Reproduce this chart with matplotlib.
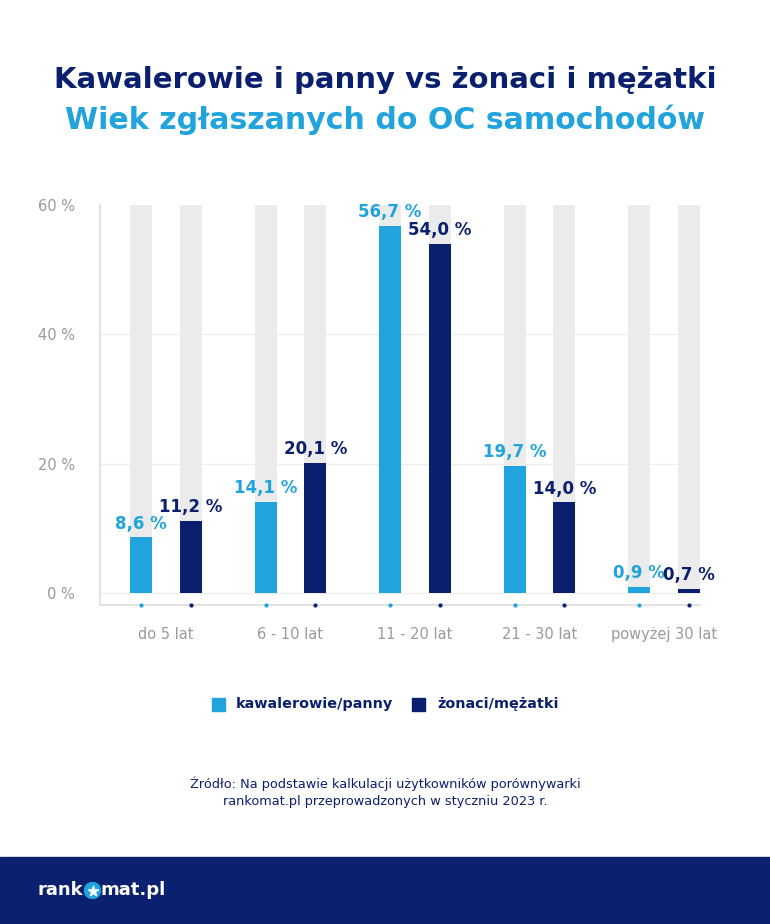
import matplotlib
matplotlib.use("Agg")
import matplotlib.pyplot as plt
from matplotlib.patches import Rectangle, Circle
import numpy as np

categories = ["do 5 lat", "6 - 10 lat", "11 - 20 lat", "21 - 30 lat", "powyżej 30 lat"]
single = [8.6, 14.1, 56.7, 19.7, 0.9]
married = [11.2, 20.1, 54.0, 14.0, 0.7]
series_names = ["kawalerowie/panny", "żonaci/mężatki"]
yticks = [0, 20, 40, 60]

LIGHT = "#21a3dd"
NAVY = "#0b1f6f"
GRAY_BG = "#ebebeb"
TICK_GRAY = "#9a9a9a"

plt.rcParams['font.family'] = ['DejaVu Sans']

fig = plt.figure(figsize=(7.7, 9.24), dpi=100)
W, H = 770, 924

def fx(px):
    return px / W

def fy(py):
    return 1 - py / H

# Titles
fig.text(0.5, fy(80), "Kawalerowie i panny vs żonaci i mężatki", ha="center", va="center",
         fontsize=21, fontweight="bold", color=NAVY)
fig.text(0.5, fy(120), "Wiek zgłaszanych do OC samochodów", ha="center", va="center",
         fontsize=21.6, fontweight="bold", color=LIGHT)

ax = fig.add_axes([fx(100), fy(605), 600 / W, 400 / H])
x = np.arange(len(categories))
off = 0.2
bw = 0.177
ymax = 60
ax.set_xlim(-0.53, 4.29)
ax.set_ylim(-1.85, 60)

for t in [0, 20, 40]:
    ax.axhline(t, color="#eeeeee", lw=1, zorder=0)

ax.bar(x - off, [ymax] * len(x), width=bw, color=GRAY_BG, zorder=1)
ax.bar(x + off, [ymax] * len(x), width=bw, color=GRAY_BG, zorder=1)
ax.bar(x - off, single, width=bw, color=LIGHT, zorder=2)
ax.bar(x + off, married, width=bw, color=NAVY, zorder=2)

def fmt(v):
    return f"{v:.1f}".replace(".", ",") + " %"

for xi, v in zip(x - off, single):
    ax.annotate(fmt(v), (xi, v), xytext=(0, 10), textcoords="offset points", ha="center",
                va="center", fontsize=12, fontweight="bold", color=LIGHT, zorder=3)
for xi, v in zip(x + off, married):
    ax.annotate(fmt(v), (xi, v), xytext=(0, 10), textcoords="offset points", ha="center",
                va="center", fontsize=12, fontweight="bold", color=NAVY, zorder=3)

# tick dots
ax.scatter(x - off, [-1.85] * len(x), s=4, color=LIGHT, clip_on=False, zorder=4)
ax.scatter(x + off, [-1.85] * len(x), s=4, color=NAVY, clip_on=False, zorder=4)

for s in ["top", "right"]:
    ax.spines[s].set_visible(False)
for s in ["left", "bottom"]:
    ax.spines[s].set_color("#dddddd")
    ax.spines[s].set_linewidth(1.2)

ax.set_yticks(yticks)
ax.set_yticklabels([f"{t} %" for t in yticks])
ax.tick_params(axis="y", length=0, pad=18, labelsize=10.5, labelcolor=TICK_GRAY)
ax.set_xticks(x)
ax.set_xticklabels(categories)
ax.tick_params(axis="x", length=0, pad=16, labelsize=10.5, labelcolor=TICK_GRAY)

# Legend
leg_y = fy(704)
sq = 13
fig.patches.append(Rectangle((fx(212), fy(704 + sq / 2)), sq / W, sq / H, color=LIGHT,
                             transform=fig.transFigure, figure=fig))
fig.text(fx(236), leg_y, series_names[0], ha="left", va="center", fontsize=10.4,
         fontweight="bold", color=NAVY)
fig.patches.append(Rectangle((fx(412), fy(704 + sq / 2)), sq / W, sq / H, color=NAVY,
                             transform=fig.transFigure, figure=fig))
fig.text(fx(437), leg_y, series_names[1], ha="left", va="center", fontsize=10.4,
         fontweight="bold", color=NAVY)

# Source
fig.text(0.5, fy(784), "Źródło: Na podstawie kalkulacji użytkowników porównywarki",
         ha="center", va="center", fontsize=9.3, color=NAVY)
fig.text(0.5, fy(801), "rankomat.pl przeprowadzonych w styczniu 2023 r.",
         ha="center", va="center", fontsize=9.3, color=NAVY)

# Footer
fig.patches.append(Rectangle((0, 0), 1, (924 - 857) / H, color="#0b2170",
                             transform=fig.transFigure, figure=fig, zorder=0))
fig.text(fx(83), fy(890), "rank", ha="right", va="center", fontsize=13,
         fontweight="bold", color="white", zorder=5)
ax_logo = fig.add_axes([fx(84), fy(899), 17 / W, 17 / H], zorder=5)
ax_logo.set_xlim(-1, 1); ax_logo.set_ylim(-1, 1); ax_logo.axis("off")
ax_logo.add_patch(Circle((0, 0), 0.95, color="#21a3dd"))
ax_logo.scatter([0], [0], marker="*", s=55, color="white", zorder=3)
fig.text(fx(101), fy(890), "mat.pl", ha="left", va="center", fontsize=13,
         fontweight="bold", color="white", zorder=5)

fig.savefig("out.png", dpi=100)
